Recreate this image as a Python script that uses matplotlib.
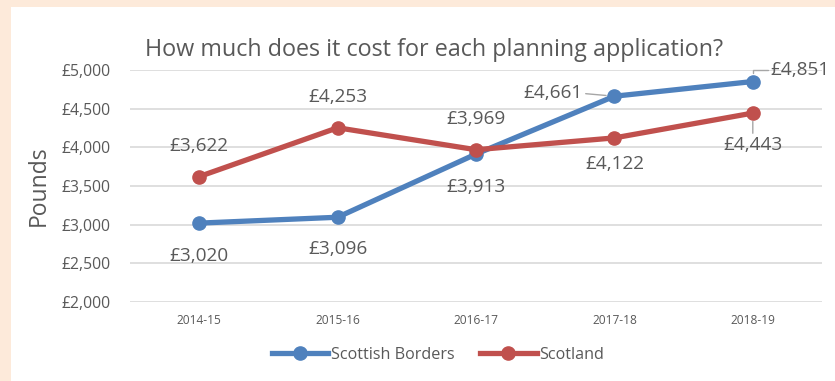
import matplotlib.pyplot as plt
from matplotlib.patches import Rectangle

# data
years = ['2014-15', '2015-16', '2016-17', '2017-18', '2018-19']
borders = [3020, 3096, 3913, 4661, 4851]
scotland = [3622, 4253, 3969, 4122, 4443]

blue = '#4F81BD'
red = '#C0504D'
txt = '#595959'

plt.rcParams['font.family'] = ['Open Sans', 'DejaVu Sans']

fig = plt.figure(figsize=(8.35, 3.81), dpi=100)
fig.set_facecolor('#FDEADA')
# white chart panel inside the peach frame
fig.patches.append(Rectangle((11 / 835, 0), 1 - 11 / 835, 1 - 7 / 381,
                             transform=fig.transFigure, fc='white', ec='none', zorder=-1))

ax = fig.add_axes([130 / 835, 1 - 302 / 381, 692 / 835, 232 / 381])
ax.set_facecolor('none')
x = range(len(years))
ax.plot(x, borders, color=blue, lw=3.8, marker='o', ms=9.5, label='Scottish Borders', zorder=3)
ax.plot(x, scotland, color=red, lw=3.8, marker='o', ms=9.5, label='Scotland', zorder=3)

ax.set_xlim(-0.5, 4.5)
ax.set_ylim(2000, 5000)
ax.set_yticks(range(2000, 5001, 500))
ax.set_yticklabels(['£{:,}'.format(v) for v in range(2000, 5001, 500)], fontsize=11.3, color=txt)
ax.set_xticks(list(x))
ax.set_xticklabels(years, fontsize=8.6, color=txt)
ax.tick_params(length=0, pad=9)
ax.tick_params(axis='y', pad=14)
ax.grid(axis='y', color='#D9D9D9', lw=1.2)
ax.set_axisbelow(True)
for s in ax.spines.values():
    s.set_visible(False)
ax.set_ylabel('Pounds', fontsize=16.5, color=txt, labelpad=8)

ax.set_title('How much does it cost for each planning application?', fontsize=16.8,
             color=txt, pad=10, x=0.44)

lab = dict(fontsize=13.7, color=txt, ha='center', va='center')
fmt = '£{:,}'.format
lead = dict(arrowstyle='-', color='#A6A6A6', lw=1, shrinkA=0, shrinkB=6)

# Scottish Borders labels
for i, dy in [(0, -24), (1, -23), (2, -24)]:
    ax.annotate(fmt(borders[i]), (i, borders[i]), xytext=(0, dy), textcoords='offset points', **lab)
ax.annotate(fmt(borders[3]), (3, borders[3]), xytext=(-44, 2), textcoords='offset points',
            arrowprops=dict(lead, relpos=(1, 0.5)), **lab)
ax.annotate(fmt(borders[4]), (4, borders[4]), xytext=(34, 8), textcoords='offset points',
            arrowprops=dict(lead, relpos=(0, 0.5), connectionstyle='angle,angleA=0,angleB=90,rad=0'),
            **lab)

# Scotland labels
for i, dy in [(0, 22), (1, 22), (2, 22), (3, -19)]:
    ax.annotate(fmt(scotland[i]), (i, scotland[i]), xytext=(0, dy), textcoords='offset points', **lab)
ax.annotate(fmt(scotland[4]), (4, scotland[4]), xytext=(0, -23), textcoords='offset points',
            arrowprops=dict(lead, relpos=(0.5, 1)), **lab)

ax.legend(loc='upper center', bbox_to_anchor=(0.445, -0.13), ncol=2, frameon=False,
          fontsize=11.6, labelcolor=txt, handlelength=3.5, handletextpad=0.15, columnspacing=1.6)

fig.savefig('out.png', dpi=100, facecolor=fig.get_facecolor())
